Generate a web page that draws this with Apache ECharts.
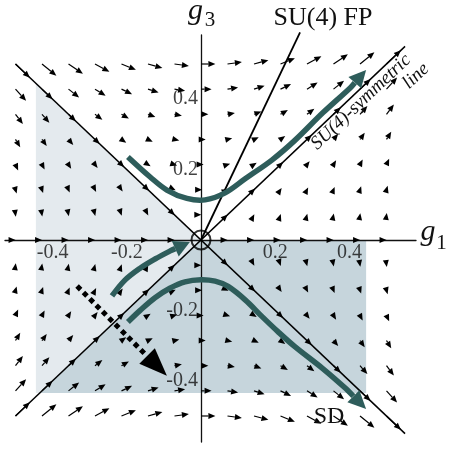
<!DOCTYPE html>
<html>
<head>
<meta charset="utf-8">
<script src="https://cdn.jsdelivr.net/npm/echarts@6/dist/echarts.min.js"></script>
<style>
  html, body { margin: 0; padding: 0; background: #ffffff; }
  #chart { width: 453px; height: 449px; }
</style>
</head>
<body>
<div id="chart"></div>
<script>
// Coupling-plane nodes where the flow arrows start
const g1Nodes = [-0.5, -0.4286, -0.3571, -0.2857, -0.2143, -0.1429, -0.0714, 0, 0.0714, 0.1429, 0.2143, 0.2857, 0.3571, 0.4286, 0.5];
const g3Nodes = [0.5, 0.4286, 0.3571, 0.2857, 0.2143, 0.1429, 0.0714, 0, -0.0714, -0.1429, -0.2143, -0.2857, -0.3571, -0.4286, -0.5];

// Flow components (dg1, dg3) at every node; one row per g3 node, one column per g1 node
const flowDg1 = [
  [0.25, 0.25, 0.25, 0.25, 0.25, 0.25, 0.25, 0.25, 0.25, 0.25, 0.25, 0.25, 0.25, 0.25, 0.25],
  [0.184, 0.184, 0.184, 0.184, 0.184, 0.184, 0.184, 0.184, 0.184, 0.184, 0.184, 0.184, 0.184, 0.184, 0.184],
  [0.128, 0.128, 0.128, 0.128, 0.128, 0.128, 0.128, 0.128, 0.128, 0.128, 0.128, 0.128, 0.128, 0.128, 0.128],
  [0.082, 0.082, 0.082, 0.082, 0.082, 0.082, 0.082, 0.082, 0.082, 0.082, 0.082, 0.082, 0.082, 0.082, 0.082],
  [0.046, 0.046, 0.046, 0.046, 0.046, 0.046, 0.046, 0.046, 0.046, 0.046, 0.046, 0.046, 0.046, 0.046, 0.046],
  [0.020, 0.020, 0.020, 0.020, 0.020, 0.020, 0.020, 0.020, 0.020, 0.020, 0.020, 0.020, 0.020, 0.020, 0.020],
  [0.005, 0.005, 0.005, 0.005, 0.005, 0.005, 0.005, 0.005, 0.005, 0.005, 0.005, 0.005, 0.005, 0.005, 0.005],
  [0.001, 0.001, 0.001, 0.001, 0.001, 0.001, 0.001, 0, 0.001, 0.001, 0.001, 0.001, 0.001, 0.001, 0.001],
  [0.005, 0.005, 0.005, 0.005, 0.005, 0.005, 0.005, 0.005, 0.005, 0.005, 0.005, 0.005, 0.005, 0.005, 0.005],
  [0.020, 0.020, 0.020, 0.020, 0.020, 0.020, 0.020, 0.020, 0.020, 0.020, 0.020, 0.020, 0.020, 0.020, 0.020],
  [0.046, 0.046, 0.046, 0.046, 0.046, 0.046, 0.046, 0.046, 0.046, 0.046, 0.046, 0.046, 0.046, 0.046, 0.046],
  [0.082, 0.082, 0.082, 0.082, 0.082, 0.082, 0.082, 0.082, 0.082, 0.082, 0.082, 0.082, 0.082, 0.082, 0.082],
  [0.128, 0.128, 0.128, 0.128, 0.128, 0.128, 0.128, 0.128, 0.128, 0.128, 0.128, 0.128, 0.128, 0.128, 0.128],
  [0.184, 0.184, 0.184, 0.184, 0.184, 0.184, 0.184, 0.184, 0.184, 0.184, 0.184, 0.184, 0.184, 0.184, 0.184],
  [0.25, 0.25, 0.25, 0.25, 0.25, 0.25, 0.25, 0.25, 0.25, 0.25, 0.25, 0.25, 0.25, 0.25, 0.25]
];
const flowDg3 = [
  [-0.250, -0.214, -0.179, -0.143, -0.107, -0.071, -0.036, 0, 0.036, 0.071, 0.107, 0.143, 0.179, 0.214, 0.250],
  [-0.214, -0.184, -0.153, -0.122, -0.092, -0.061, -0.031, 0, 0.031, 0.061, 0.092, 0.122, 0.153, 0.184, 0.214],
  [-0.179, -0.153, -0.128, -0.102, -0.077, -0.051, -0.026, 0, 0.026, 0.051, 0.077, 0.102, 0.128, 0.153, 0.179],
  [-0.143, -0.122, -0.102, -0.082, -0.061, -0.041, -0.020, 0, 0.020, 0.041, 0.061, 0.082, 0.102, 0.122, 0.143],
  [-0.107, -0.092, -0.077, -0.061, -0.046, -0.031, -0.015, 0, 0.015, 0.031, 0.046, 0.061, 0.077, 0.092, 0.107],
  [-0.071, -0.061, -0.051, -0.041, -0.031, -0.020, -0.010, 0, 0.010, 0.020, 0.031, 0.041, 0.051, 0.061, 0.071],
  [-0.036, -0.031, -0.026, -0.020, -0.015, -0.010, -0.005, 0, 0.005, 0.010, 0.015, 0.020, 0.026, 0.031, 0.036],
  [0, 0, 0, 0, 0, 0, 0, 0, 0, 0, 0, 0, 0, 0, 0],
  [0.036, 0.031, 0.026, 0.020, 0.015, 0.010, 0.005, 0, -0.005, -0.010, -0.015, -0.020, -0.026, -0.031, -0.036],
  [0.071, 0.061, 0.051, 0.041, 0.031, 0.020, 0.010, 0, -0.010, -0.020, -0.031, -0.041, -0.051, -0.061, -0.071],
  [0.107, 0.092, 0.077, 0.061, 0.046, 0.031, 0.015, 0, -0.015, -0.031, -0.046, -0.061, -0.077, -0.092, -0.107],
  [0.143, 0.122, 0.102, 0.082, 0.061, 0.041, 0.020, 0, -0.020, -0.041, -0.061, -0.082, -0.102, -0.122, -0.143],
  [0.179, 0.153, 0.128, 0.102, 0.077, 0.051, 0.026, 0, -0.026, -0.051, -0.077, -0.102, -0.128, -0.153, -0.179],
  [0.214, 0.184, 0.153, 0.122, 0.092, 0.061, 0.031, 0, -0.031, -0.061, -0.092, -0.122, -0.153, -0.184, -0.214],
  [0.250, 0.214, 0.179, 0.143, 0.107, 0.071, 0.036, 0, -0.036, -0.071, -0.107, -0.143, -0.179, -0.214, -0.250]
];

const tickValues = [-0.4, -0.2, 0.2, 0.4];

// Invariant lines and the SU(4) fixed-point ray
const diagRising = [[-0.5, -0.5], [0.55, 0.55]];
const diagFalling = [[-0.5, 0.5], [0.55, -0.55]];
const fixedPointRay = [[0, 0], [0.267, 0.59]];

// Shaded basins
const lightBasin = [[-0.445, 0.445], [0, 0], [-0.435, -0.435], [-0.445, -0.435]];
const darkBasin = [[0, 0], [0.445, 0], [0.445, -0.435], [-0.435, -0.435]];

// Sample trajectories (last point is the arrow tip)
const upperTrajectory = [[-0.197, 0.236], [-0.137, 0.179], [-0.092, 0.142], [-0.038, 0.118], [0.011, 0.114],
  [0.065, 0.134], [0.119, 0.174], [0.191, 0.227], [0.253, 0.283], [0.329, 0.362], [0.402, 0.432], [0.445, 0.483]];
const inflowTrajectory = [[-0.240, -0.159], [-0.205, -0.114], [-0.164, -0.080], [-0.124, -0.054], [-0.083, -0.031], [-0.030, -0.006]];
const sdTrajectory = [[-0.197, -0.233], [-0.164, -0.200], [-0.124, -0.164], [-0.084, -0.137], [-0.043, -0.119], [0, -0.113],
  [0.038, -0.117], [0.073, -0.132], [0.119, -0.170], [0.164, -0.217], [0.208, -0.261], [0.253, -0.303],
  [0.329, -0.366], [0.388, -0.420], [0.445, -0.480]];
const dashedPath = [[-0.334, -0.131], [-0.092, -0.386]];

const TEAL = '#2e5d5b';
const ARROW_K = 0.155;
const HEAD_L = 7, HEAD_W = 3;

const fieldData = [];
g3Nodes.forEach((g3, r) => {
  g1Nodes.forEach((g1, c) => {
    fieldData.push([g1, g3, flowDg1[r][c], flowDg3[r][c]]);
  });
});

function unitDir(a, b) {
  const dx = b[0] - a[0], dy = b[1] - a[1];
  const n = Math.hypot(dx, dy) || 1;
  return [dx / n, dy / n];
}

function headPolygon(tip, dir, len, halfW) {
  const bx = tip[0] - dir[0] * len, by = tip[1] - dir[1] * len;
  return {
    base: [bx, by],
    points: [tip, [bx - dir[1] * halfW, by + dir[0] * halfW], [bx + dir[1] * halfW, by - dir[0] * halfW]]
  };
}

function renderFieldArrow(params, api) {
  const g1 = api.value(0), g3 = api.value(1), a = api.value(2), b = api.value(3);
  if (a === 0 && b === 0) return null;
  const tail = api.coord([g1, g3]);
  const tip = api.coord([g1 + a * ARROW_K, g3 + b * ARROW_K]);
  const dir = unitDir(tail, api.coord([g1 + a, g3 + b]));
  const len = Math.hypot(tip[0] - tail[0], tip[1] - tail[1]);
  const head = headPolygon(tip, dir, HEAD_L, HEAD_W);
  const children = [];
  if (len > HEAD_L) {
    children.push({ type: 'line', shape: { x1: tail[0], y1: tail[1], x2: head.base[0], y2: head.base[1] },
      style: { stroke: '#000', lineWidth: 1.2 } });
  }
  children.push({ type: 'polygon', shape: { points: head.points }, style: { fill: '#000' } });
  return { type: 'group', children };
}

function trajectoryRenderer(points, color, width, headL, headW, dash) {
  return function (params, api) {
    const px = points.map(p => api.coord(p));
    const tip = px[px.length - 1];
    const dir = unitDir(px[px.length - 2], tip);
    const head = headPolygon(tip, dir, headL, headW);
    const body = px.slice(0, px.length - 1);
    body.push(head.base);
    return {
      type: 'group',
      children: [
        { type: 'polyline', shape: { points: body, smooth: dash ? 0 : 0.35 },
          style: { stroke: color, lineWidth: width, fill: null, lineDash: dash || null, lineCap: 'butt' } },
        { type: 'polygon', shape: { points: head.points }, style: { fill: color } }
      ]
    };
  };
}

function regionRenderer(points, color) {
  return function (params, api) {
    return { type: 'polygon', shape: { points: points.map(p => api.coord(p)) }, style: { fill: color } };
  };
}

const serif = '"Liberation Serif", "DejaVu Serif", serif';
const tickFmt = v => String(v);

const chart = echarts.init(document.getElementById('chart'), null, { renderer: 'canvas' });
chart.setOption({
  animation: false,
  backgroundColor: '#ffffff',
  grid: { left: 5, right: 37, top: 35, bottom: 7, containLabel: false, outerBoundsMode: 'none' },
  xAxis: {
    type: 'value', min: -0.5283, max: 0.5795, z: 1,
    splitLine: { show: false },
    axisTick: { show: false },
    axisLabel: { show: false },
    axisLine: { onZero: true, lineStyle: { color: '#111', width: 1.3 } }
  },
  yAxis: {
    type: 'value', min: -0.5739, max: 0.5824, z: 1,
    splitLine: { show: false },
    axisTick: { show: false },
    axisLabel: { show: false },
    axisLine: { onZero: true, lineStyle: { color: '#111', width: 1.3 } }
  },
  series: [
    { type: 'custom', z: 0, clip: false, silent: true, data: [0], renderItem: regionRenderer(lightBasin, '#e4eaee') },
    { type: 'custom', z: 0, clip: false, silent: true, data: [0], renderItem: regionRenderer(darkBasin, '#c6d5dc') },
    { type: 'custom', z: 2, clip: false, silent: true, data: fieldData, renderItem: renderFieldArrow },
    { type: 'line', z: 3, silent: true, symbol: 'none', data: diagRising, lineStyle: { color: '#000', width: 1.5 } },
    { type: 'line', z: 3, silent: true, symbol: 'none', data: diagFalling, lineStyle: { color: '#000', width: 1.5 } },
    { type: 'line', z: 3, silent: true, symbol: 'none', clip: false, data: fixedPointRay, lineStyle: { color: '#000', width: 1.8 } },
    { type: 'custom', z: 4, clip: false, silent: true, data: [0], renderItem: trajectoryRenderer(upperTrajectory, TEAL, 5.5, 17, 8.5) },
    { type: 'custom', z: 4, clip: false, silent: true, data: [0], renderItem: trajectoryRenderer(inflowTrajectory, TEAL, 5.5, 16, 8.5) },
    { type: 'custom', z: 4, clip: false, silent: true, data: [0], renderItem: trajectoryRenderer(sdTrajectory, TEAL, 5.5, 18, 8.5) },
    { type: 'custom', z: 4, clip: false, silent: true, data: [0], renderItem: trajectoryRenderer(dashedPath, '#000', 5, 28, 11, [5, 4]) },
    { type: 'scatter', z: 5, silent: true, symbol: 'circle', symbolSize: 19, data: [[0, 0]],
      itemStyle: { color: 'rgba(0,0,0,0)', borderColor: '#000', borderWidth: 2 } },
    // tick labels along g1 (below the axis) and g3 (left of the axis)
    { type: 'scatter', z: 6, silent: true, symbolSize: 0, data: tickValues.map(v => [v, 0]),
      label: { show: true, position: 'bottom', distance: 3, formatter: p => tickFmt(p.value[0]),
        color: '#111', fontFamily: 'Liberation Serif', fontSize: 20 } },
    { type: 'scatter', z: 6, silent: true, symbolSize: 0, data: tickValues.map(v => [0, v]),
      label: { show: true, position: 'left', distance: 3, formatter: p => tickFmt(p.value[1]),
        color: '#111', fontFamily: 'Liberation Serif', fontSize: 20 } }
  ],
  graphic: [
    { type: 'text', z: 10, x: 195.5, y: 11, style: { text: 'g', font: 'italic 30px ' + serif, fill: '#111', align: 'center', verticalAlign: 'middle' } },
    { type: 'text', z: 10, x: 210, y: 20, style: { text: '3', font: '21px ' + serif, fill: '#111', align: 'center', verticalAlign: 'middle' } },
    { type: 'text', z: 10, x: 428, y: 232.5, style: { text: 'g', font: 'italic 30px ' + serif, fill: '#111', align: 'center', verticalAlign: 'middle' } },
    { type: 'text', z: 10, x: 441.5, y: 243, style: { text: '1', font: '21px ' + serif, fill: '#111', align: 'center', verticalAlign: 'middle' } },
    { type: 'text', z: 10, x: 323, y: 18, style: { text: 'SU(4) FP', font: '26px ' + serif, fill: '#111', align: 'center', verticalAlign: 'middle' } },
    { type: 'text', z: 10, x: 329, y: 416.5, style: { text: 'SD', font: '24px ' + serif, fill: '#111', align: 'center', verticalAlign: 'middle' } },
    { type: 'text', z: 10, x: 361, y: 102, rotation: 43.5 * Math.PI / 180,
      style: { text: 'SU(4)-symmetric', font: 'italic 19px ' + serif, fill: '#111', align: 'center', verticalAlign: 'middle' } },
    { type: 'text', z: 10, x: 416, y: 76, rotation: 43.5 * Math.PI / 180,
      style: { text: 'line', font: 'italic 19px ' + serif, fill: '#111', align: 'center', verticalAlign: 'middle' } }
  ]
});
</script>
</body>
</html>
